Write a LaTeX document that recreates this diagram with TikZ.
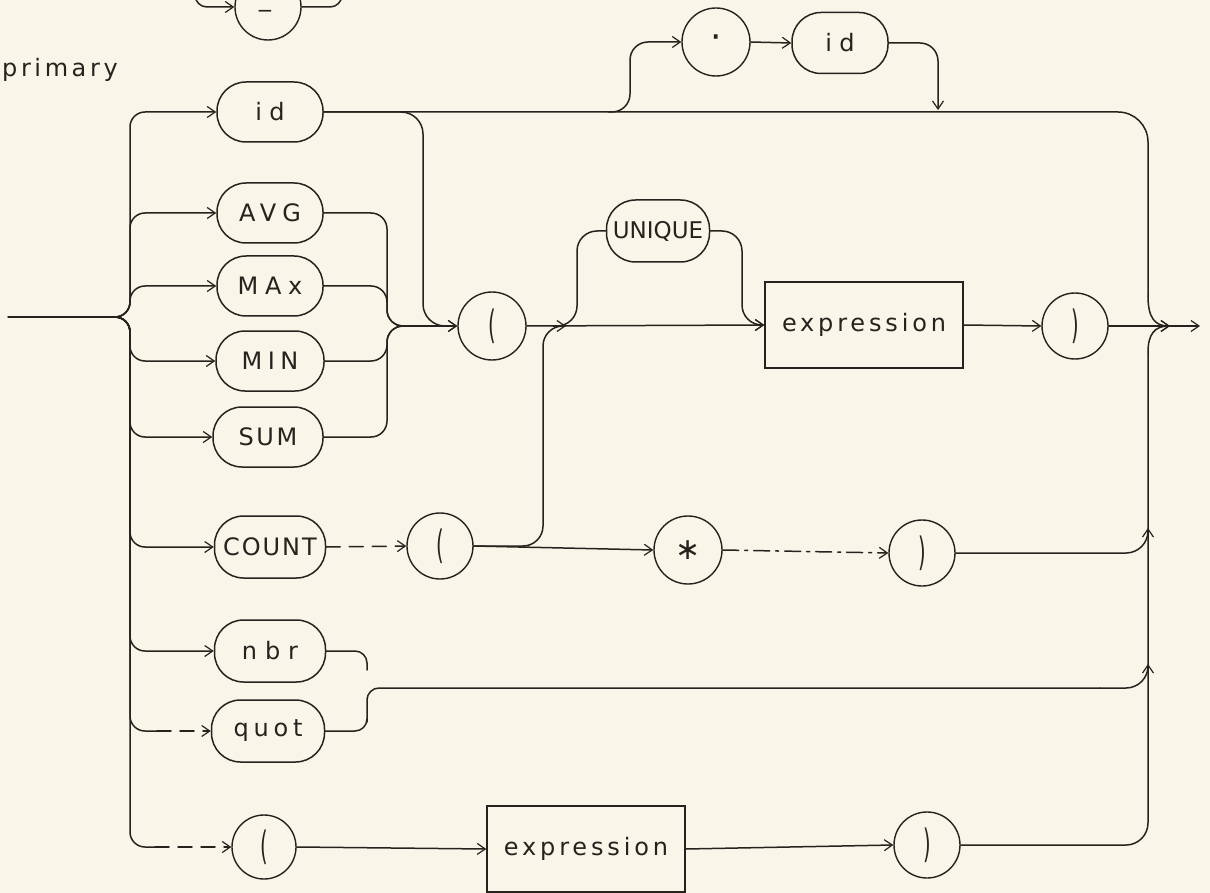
\documentclass[tikz,border=0pt]{standalone}
\usepackage{fontspec}
\setmainfont{DejaVu Sans}
\usepackage{graphicx}
\usetikzlibrary{arrows.meta}
\definecolor{ink}{RGB}{38,35,30}
\definecolor{paper}{RGB}{248,246,233}
\newcommand{\ls}[2]{{\addfontfeature{LetterSpace=#1}#2}}
\newcommand{\lparen}{\scalebox{0.75}[1.5]{(}}
\newcommand{\rparen}{\scalebox{0.75}[1.5]{)}}
\tikzset{
  ln/.style={draw=ink, line width=1.5pt, line cap=round, line join=round},
  arr/.style={-{Straight Barb[length=8pt,width=11pt,line width=1.2pt]}},
  term/.style={draw=ink, line width=1.5pt, rounded corners=29pt, minimum height=60pt,
    minimum width=106pt, inner sep=0pt, text=ink, font=\fontsize{24}{28}\selectfont},
  circ/.style={circle, draw=ink, line width=1.4pt, inner sep=0pt, minimum size=66pt,
    text=ink, font=\fontsize{26}{26}\selectfont},
  nonterm/.style={rectangle, draw=ink, line width=1.5pt, minimum width=198pt,
    minimum height=86pt, inner sep=0pt, text=ink, font=\fontsize{24}{28}\selectfont},
  dsh/.style={dash pattern=on 14pt off 9pt},
  dshdot/.style={dash pattern=on 16pt off 6pt on 3pt off 6pt},
}
\begin{document}
\begin{tikzpicture}[x=1pt,y=-1pt]
\useasboundingbox (0,0) rectangle (1210,893);
\fill[paper] (0,0) rectangle (1210,893);

% ---------------- nodes ----------------
\node[circ] (minus) at (268,7) {};
\node[inner sep=0pt, text=ink, font=\fontsize{20}{20}\selectfont] (minustext) at (265,14) {−};
\node[anchor=base west, inner sep=0pt, text=ink, font=\fontsize{24}{28}\selectfont] (prim) at (2,77) {\ls{15}{primary}};
\node[term] (id1) at (270,112) {\ls{30}{id}};
\node[term] (avg) at (270,213) {\ls{25}{AVG}};
\node[term] (max) at (270,286) {\ls{28}{MAx}};
\node[term, minimum width=108pt] (min) at (270,361) {\ls{23}{MIN}};
\node[term, minimum width=110pt] (sum) at (268,437) {\ls{11}{SUM}};
\node[term, minimum width=111pt, minimum height=62pt] (count) at (270,547) {\ls{8}{COUNT}};
\node[term, minimum width=111pt, minimum height=62pt] (nbr) at (270,651) {\ls{33}{nbr}};
\node[term, minimum width=113pt, minimum height=62pt] (quot) at (268,731) {\ls{20}{quot}};
\node[circ, minimum size=64pt] (lpar2) at (264,847) {\lparen};
\node[nonterm] (expr2) at (586,849) {\ls{16}{expression}};
\node[circ] (rpar3) at (927,845) {\rparen};
\node[circ, minimum size=68pt] (lpar1) at (492,326) {\lparen};
\node[term, minimum width=103pt, minimum height=62pt, font=\fontsize{23}{28}\selectfont] (unique) at (658,231) {UNIQUE};
\node[nonterm] (expr1) at (864,325) {\ls{16}{expression}};
\node[circ] (rpar1) at (1075,326) {\rparen};
\node[circ, minimum size=68pt, font=\fontsize{36}{36}\selectfont] (dot) at (716,42) {·};
\node[term, minimum width=96pt, minimum height=61pt] (id2) at (840,43) {\ls{30}{id}};
\node[circ] (lpar3) at (440,546) {\lparen};
\node[circ, minimum size=68pt, font=\fontsize{30}{30}\selectfont] (star) at (688,550) {∗};
\node[circ] (rpar2) at (922,553) {\rparen};

% ---------------- coordinates ----------------
\coordinate (in) at (8,317);
\coordinate (cl) at (114,317);
\coordinate (sp) at (130,0);
\coordinate (b1) at (155,847);
\coordinate (q1) at (157,731);
\coordinate (mx) at (387,0);
\coordinate (mR) at (410,326);
\coordinate (ix) at (423,0);
\coordinate (rt) at (1148,296);
\coordinate (rb) at (1148,352);
\coordinate (xj) at (1170,326);
\coordinate (xo) at (1200,326);
\coordinate (r2) at (1148,528);
\coordinate (qv) at (367,710);
\coordinate (qh) at (1100,688);
\coordinate (r3) at (1148,664);
\coordinate (nv) at (367,670);
\coordinate (cx) at (543,0);
\coordinate (cj) at (566,326);
\coordinate (uj) at (553,326);
\coordinate (ux) at (577,0);
\coordinate (vx) at (742,0);
\coordinate (dj) at (608,112);
\coordinate (dx) at (630,0);
\coordinate (dm) at (938,110);
\coordinate (m0) at (195,-25);
\coordinate (m1) at (342,-25);

% ---------------- connectors ----------------
% top fragment
\draw[ln, rounded corners=12pt, arr] (m0) |- (minus.west);
\draw[ln, rounded corners=12pt] (minus.east) -| (m1);

% entry and left spine
\draw[ln] (in) -- (cl);
\draw[ln, rounded corners=15pt, arr] (cl) -| (id1.west -| sp) -- (id1.west);
\foreach \nm in {avg,max,min,sum,count,nbr}
  \draw[ln, rounded corners=15pt, arr] (cl) -| (\nm.west -| sp) -- (\nm.west);
\draw[ln, rounded corners=15pt] (cl) -| (quot.west -| sp) -- (q1);
\draw[ln, dsh, arr] (q1) -- (quot.west);
\draw[ln, rounded corners=15pt] (cl) -| (lpar2.west -| sp) -- (b1);
\draw[ln, dsh, arr] (b1) -- (lpar2.west);

% function group merge
\foreach \nm in {avg,max,min,sum}
  \draw[ln, rounded corners=16pt] (\nm.east) -| (mR -| mx) -- (mR);
\draw[ln, arr] (mR) -- (lpar1.west);

% id -> (
\draw[ln, rounded corners=22pt, arr] (id1.east) -| (lpar1.west -| ix) -- (lpar1.west);

% id -> exit (top)
\draw[ln, rounded corners=30pt] (id1.east) -| (rt);
\draw[ln, arr] (rt) .. controls (1148,318) and (1155,326) .. (xj);

% . id bypass
\draw[ln, rounded corners=18pt, arr] (dj) -| (dot.west -| dx) -- (dot.west);
\draw[ln, arr] (dot.east) -- (id2.west);
\draw[ln, rounded corners=18pt, arr] (id2.east) -| (dm);

% ( UNIQUE expression )
\draw[ln, arr] (lpar1.east) -- (expr1.west);
\draw[ln, rounded corners=20pt] (uj) -| (unique.west -| ux) -- (unique.west);
\draw[ln, rounded corners=20pt, arr] (unique.east) -| (expr1.west -| vx) -- (expr1.west);
\draw[ln, arr] (expr1.east) -- (rpar1.west);
\draw[ln, arr] (rpar1.east) -- (xo);

% COUNT row
\draw[ln, dsh, arr] (count.east) -- (lpar3.west);
\draw[ln, rounded corners=20pt, arr] (lpar3.east) -| (cj -| cx) -- (cj);
\draw[ln, arr] (lpar3.east) -- (star.west);
\draw[ln, dshdot, arr] (star.east) -- (rpar2.west);
\draw[ln, rounded corners=22pt, arr] (rpar2.east) -| (r2);

% nbr / quot
\draw[ln, rounded corners=12pt] (nbr.east) -| (nv);
\draw[ln, rounded corners=12pt] (quot.east) -| (qv) |- (qh);
\draw[ln, rounded corners=22pt, arr] (qh) -| (r3);

% bottom row
\draw[ln, arr] (lpar2.east) -- (expr2.west);
\draw[ln, arr] (expr2.east) -- (rpar3.west);
\draw[ln, rounded corners=22pt] (rpar3.east) -| (rb);
\draw[ln, arr] (rb) .. controls (1148,334) and (1155,326) .. (xj);
\end{tikzpicture}
\end{document}
